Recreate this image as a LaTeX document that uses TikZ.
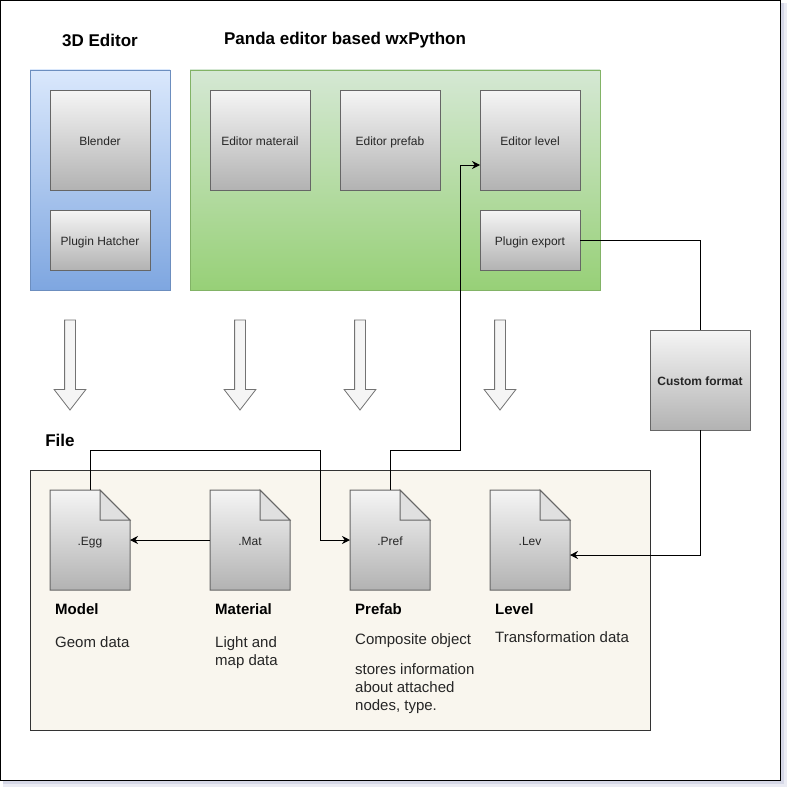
\documentclass[tikz,border=0pt]{standalone}
\usepackage{fontspec}
\setmainfont{Liberation Sans}
\usetikzlibrary{arrows.meta,positioning,shapes.arrows}

\definecolor{framesh}{HTML}{D5D7E6}
\definecolor{filebg}{HTML}{F9F6EE}

\begin{document}
\begin{tikzpicture}[
  x=1pt, y=-1pt,
  panel/.style={rectangle, draw, inner sep=0pt, outer sep=0pt, anchor=north west},
  graybox/.style={rectangle, draw=black!60, top color=black!4, bottom color=black!30, text=black!85, font=\fontsize{12}{14}\selectfont, text height=12pt, text depth=2pt, inner sep=0pt, outer sep=0pt, minimum width=100pt, minimum height=100pt},
  shortbox/.style={graybox, minimum height=60pt},
  downarrow/.style={single arrow, draw=black!55, line width=0.8pt, fill=black!4, shape border rotate=270, minimum height=90pt, text width=10pt, single arrow head extend=10.5pt, single arrow head indent=0pt, single arrow tip angle=75.5, inner sep=0pt, outer sep=0pt, anchor=tip},
  title/.style={font=\bfseries\fontsize{17}{20}\selectfont, inner sep=0pt},
  filetext/.style={font=\fontsize{15}{18}\selectfont, text=black!85, align=left, inner sep=0pt, anchor=base west},
  filehead/.style={filetext, font=\bfseries\fontsize{15}{18}\selectfont, text=black},
  arrow/.style={-{Stealth[length=8pt,width=8pt]}, line width=1pt},
  link/.style={line width=1pt}
]
\useasboundingbox (0,0) rectangle (792,792);

% page frame
\fill[framesh!50] (3,3) rectangle (787,787);
\fill[framesh] (3,3) rectangle (784,784);
\node[panel, draw=black, fill=white, line width=1.5pt, minimum width=780pt, minimum height=780pt] (page) at (0.5,0.5) {};

\node[title] (editortitle) at (100,40) {3D Editor};
\node[title] (pandatitle) at (345,40) {Panda editor based wxPython};
\node[title] (filetitle) at (60,440) {File};

\node[panel, draw={rgb,255:red,108;green,142;blue,191}, top color={rgb,255:red,218;green,232;blue,252}, bottom color={rgb,255:red,126;green,166;blue,224}, minimum width=140pt, minimum height=220pt] (editor) at (30,70) {};
\node[panel, draw={rgb,255:red,130;green,179;blue,102}, top color={rgb,255:red,213;green,232;blue,212}, bottom color={rgb,255:red,151;green,208;blue,119}, minimum width=410pt, minimum height=220pt] (panda) at (190,70) {};
\node[panel, draw=black!80, fill=filebg, minimum width=620pt, minimum height=260pt] (files) at (30,470) {};

\node[graybox] (blender) at (100,140) {Blender};
\node[shortbox, below=20pt of blender] (hatcher) {Plugin Hatcher};
\node[graybox] (material) at (260,140) {Editor materail};
\node[graybox, right=30pt of material] (prefab) {Editor prefab};
\node[graybox, right=40pt of prefab] (level) {Editor level};
\node[shortbox, below=20pt of level] (export) {Plugin export};
\node[graybox] (custom) at (700,380) {\bfseries Custom format};

\node[downarrow] (arrowa) at (70,410) {};
\node[downarrow] (arrowb) at (240,410) {};
\node[downarrow] (arrowc) at (360,410) {};
\node[downarrow] (arrowd) at (500,410) {};

% file icons
\foreach \name/\x/\ext in {egg/50/.Egg, mat/210/.Mat, pref/350/.Pref, lev/490/.Lev} {
  \shade[top color=black!4, bottom color=black!30] (\x,490) -- ++(50,0) -- ++(30,30) -- ++(0,70) -- ++(-80,0) -- cycle;
  \draw[draw=black!60, line width=1pt, fill=black!12] (\x+50,490) -- ++(0,30) -- ++(30,0) -- cycle;
  \draw[draw=black!60, line width=1pt] (\x,490) -- ++(50,0) -- ++(30,30) -- ++(0,70) -- ++(-80,0) -- cycle;
  \node[minimum width=80pt, minimum height=100pt, inner sep=0pt, outer sep=0pt, text=black!85, font=\fontsize{12}{14}\selectfont, text height=12pt, text depth=2pt, anchor=north west] (\name) at (\x,490) {\ext};
}

\node[filehead] (modelhead) at (55,614) {Model};
\node[filetext] (modeltext) at (55,647) {Geom data};
\node[filehead] (mathead) at (215,614) {Material};
\node[filetext] (mattext) at (215,665) {Light and\\map data};
\node[filehead] (prefhead) at (355,614) {Prefab};
\node[filetext] (preftext) at (355,644) {Composite object};
\node[filetext] (prefmore) at (355,710) {stores information\\about attached\\nodes, type.};
\node[filehead] (levhead) at (495,614) {Level};
\node[filetext] (levtext) at (495,642) {Transformation data};

\draw[arrow] (mat.west) -- (egg.east);
\draw[arrow] (egg.north) -- (90,450) -- (320,450) -- (320,540) -- (pref.west);
\draw[arrow] (pref.north) -- (390,450) -- (460,450) -- (460,165) -- ([yshift=-25pt]level.west);
\draw[link] (export.east) -| (custom.north);
\draw[arrow] (custom.south) |- ([yshift=-15pt]lev.east);

\end{tikzpicture}
\end{document}
